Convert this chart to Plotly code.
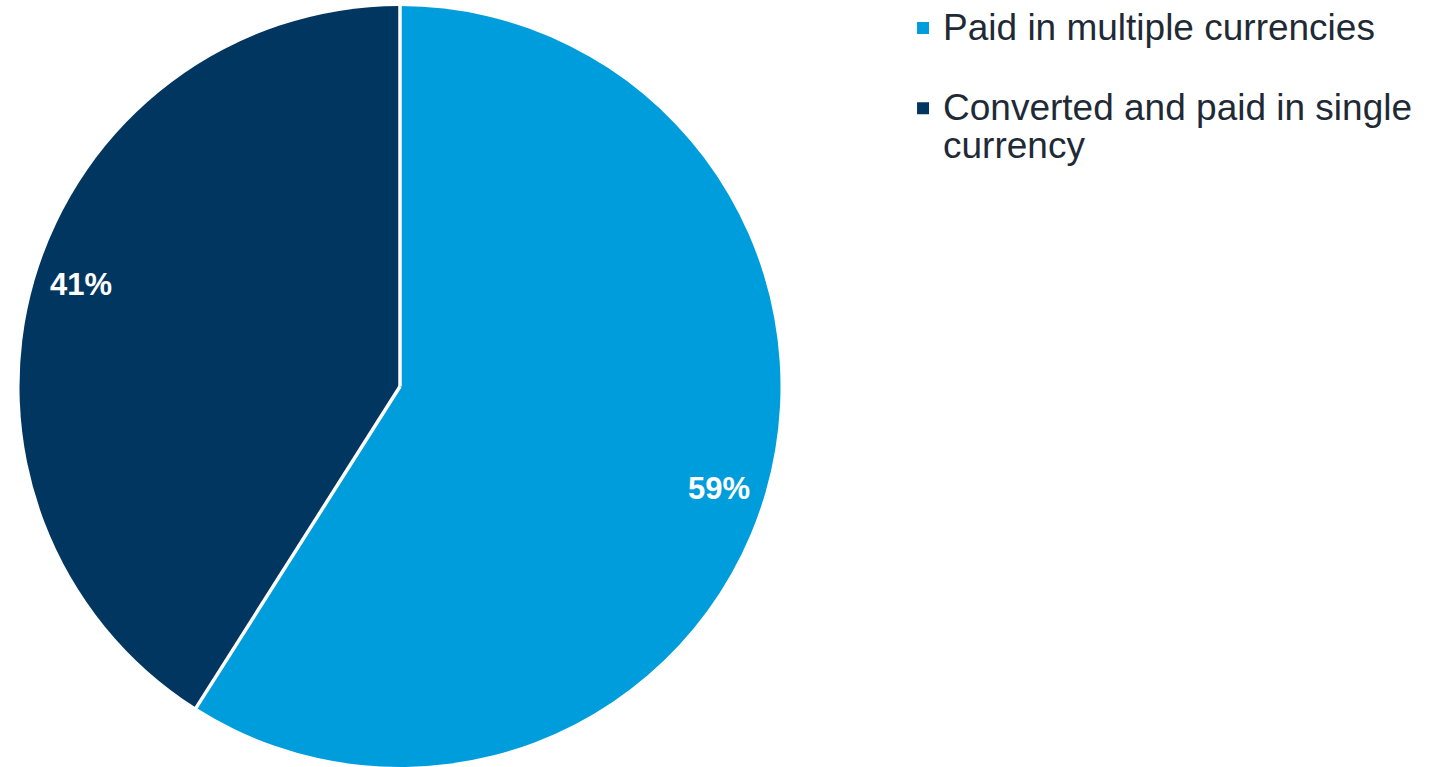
import math
import plotly.graph_objects as go

labels = ["Paid in multiple currencies", "Converted and paid in single<br>currency"]
values = [59, 41]
colors = ["#009DDC", "#003660"]

W, H = 1435, 767
top_margin = 6
cx, r = 400, 380.5            # pie centre x / radius in pixels
cy = top_margin + r           # pie centre y in pixels

LEGEND_LINE = 29.7            # sets legend line spacing
LEGEND_TEXT = 37              # visible legend text size


def to_paper(px, py):
    """Pixel position -> paper coordinates of the plot area."""
    return px / W, (H - py) / (H - top_margin)


# legend labels: larger text inside a tighter line box, first entry padded by a blank line
legend_labels = [
    f"<span style='font-size:{LEGEND_TEXT}px'>{lab}</span>" + ("<br> " if i == 0 else "")
    for i, lab in enumerate(labels)
]

fig = go.Figure(
    go.Pie(
        labels=legend_labels,
        values=values,
        sort=False,
        direction="clockwise",
        rotation=0,
        marker=dict(colors=colors, line=dict(width=0)),
        textinfo="none",
        hoverinfo="percent",
        domain=dict(x=[(cx - r) / W, (cx + r) / W], y=[0, 1]),
    )
)

total = sum(values)
shapes = []
annotations = []
start = 0.0
for v in values:
    frac = v / total
    # white separator along the slice's starting edge
    a0 = start * 2 * math.pi
    x0, y0 = to_paper(cx, cy)
    x1, y1 = to_paper(cx + (r + 4) * math.sin(a0), cy - (r + 4) * math.cos(a0))
    shapes.append(
        dict(type="line", xref="paper", yref="paper", x0=x0, y0=y0, x1=x1, y1=y1,
             line=dict(color="white", width=3.5))
    )
    # percentage label along the slice's mid angle near the rim
    mid = (start + frac / 2) * 2 * math.pi + math.radians(1.6)
    lx, ly = to_paper(cx + 0.88 * r * math.sin(mid), cy - 0.88 * r * math.cos(mid))
    annotations.append(
        dict(
            x=lx, y=ly, xref="paper", yref="paper",
            xanchor="center", yanchor="middle",
            text=f"<b>{round(frac * 100)}%</b>",
            showarrow=False,
            font=dict(family="Liberation Sans, Arial", size=31, color="white"),
        )
    )
    start += frac

fig.update_layout(
    width=W,
    height=H,
    margin=dict(l=0, r=0, t=top_margin, b=0),
    paper_bgcolor="white",
    plot_bgcolor="white",
    shapes=shapes,
    annotations=annotations,
    showlegend=True,
    legend=dict(
        x=0.6293,
        y=1.005,
        xanchor="left",
        yanchor="top",
        valign="top",
        font=dict(family="Liberation Sans, Arial", size=LEGEND_LINE, color="#1f2a37"),
        itemsizing="constant",
    ),
)

fig.write_html("out.html")
